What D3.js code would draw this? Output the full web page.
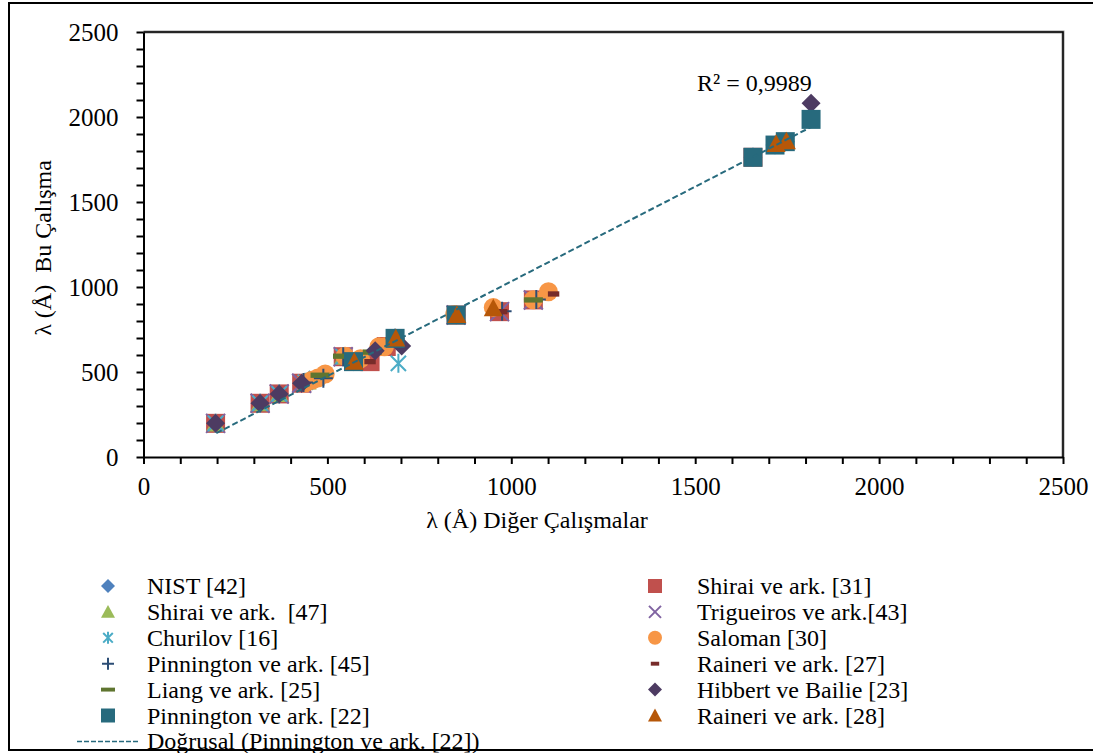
<!DOCTYPE html>
<meta charset="utf-8">
<style>
body { margin: 0; background: #fff; }
svg text { font-family: "Liberation Serif", "Times New Roman", Times, "DejaVu Serif", serif; }
.axis path, .axis line { stroke: #000; stroke-width: 2px; }
.axis text { font-size: 25px; fill: #000; }
.leg text { font-size: 24px; fill: #000; white-space: pre; }
</style>
<body>
<script src="https://cdn.jsdelivr.net/npm/d3@7/dist/d3.min.js"></script>
<script>

// series names (Excel series order)
var seriesNames = ["NIST [42]", "Shirai ve ark. [31]", "Shirai ve ark.  [47]", "Trigueiros ve ark.[43]",
  "Churilov [16]", "Saloman [30]", "Pinnington ve ark. [45]", "Raineri ve ark. [27]",
  "Liang ve ark. [25]", "Hibbert ve Bailie [23]", "Pinnington ve ark. [22]", "Raineri ve ark. [28]"];
var trendName = "Doğrusal (Pinnington ve ark. [22])";

// x = other works, y = this work (Å)
var nistX = [196, 317, 369, 430, 455, 543, 571, 630, 684, 850, 1657, 1717, 1745];
var nistY = [198, 316, 371, 434, 452, 590, 561, 625, 698, 835, 1763, 1835, 1855];
var shirai31X = [196, 317, 369, 430, 543, 616, 660, 850, 968, 1060, 1657];
var shirai31Y = [198, 316, 371, 434, 590, 561, 650, 835, 855, 924, 1763];
var shirai47X = [196, 317, 369, 445, 543, 684, 1657];
var shirai47Y = [198, 316, 371, 445, 590, 698, 1763];
var trigX = [196, 317, 369, 430, 543, 850, 968, 1060];
var trigY = [198, 316, 371, 434, 590, 835, 855, 924];
var churX = [196, 317, 369, 440, 470, 543, 693, 1657];
var churY = [198, 316, 371, 440, 462, 590, 551, 1763];
var salX = [439, 458, 474, 494, 548, 590, 640, 655, 846, 951, 1060, 1101];
var salY = [435, 452, 465, 488, 592, 578, 648, 648, 838, 880, 925, 972];
var pinn45X = [435, 489, 543, 684, 975, 1068];
var pinn45Y = [438, 463, 590, 698, 858, 926];
var rain27X = [616, 843, 974, 1115];
var rain27Y = [561, 838, 855, 959];
var liangX = [480, 541, 622, 1060];
var liangY = [481, 593, 617, 924];
var hibX = [196, 317, 369, 430, 630, 702, 1815];
var hibY = [198, 316, 371, 434, 625, 653, 2081];
var pinn22X = [571, 684, 850, 1657, 1717, 1745, 1815];
var pinn22Y = [561, 698, 835, 1763, 1835, 1855, 1986];
var rain28X = [573, 686, 852, 951, 1720, 1748];
var rain28Y = [561, 698, 835, 875, 1842, 1858];

// linear trendline end points (Pinnington [22])
var trendX = [198, 1815];
var trendY = [140, 1941];
var r2Label = "R² = 0,9989";

var seriesX = [nistX, shirai31X, shirai47X, trigX, churX, salX, pinn45X, rain27X, liangX, hibX, pinn22X, rain28X];
var seriesY = [nistY, shirai31Y, shirai47Y, trigY, churY, salY, pinn45Y, rain27Y, liangY, hibY, pinn22Y, rain28Y];
var shapes = ["diamond", "square", "triangle", "x", "asterisk", "circle", "plus", "dashS", "dash", "diamond", "square", "triangle"];
var colors = ["#4F81BD", "#C0504D", "#9BBB59", "#8064A2", "#4BACC6", "#F79646",
  "#2C4D75", "#772C2A", "#5F7530", "#4D3B62", "#276A7D", "#B65708"];

var W = 1093, H = 753;
var serif = "'Liberation Serif', 'Times New Roman', Times, 'DejaVu Serif', serif";
var svg = d3.select("body").append("svg").attr("width", W).attr("height", H)
  .attr("font-family", serif);

// outer frame (right side runs off the picture)
svg.append("rect").attr("x", 9).attr("y", 3).attr("width", 1110).attr("height", 747)
  .attr("fill", "none").attr("stroke", "#000").attr("stroke-width", 2);

var x = d3.scaleLinear().domain([0, 2500]).range([143.5, 1063]);
var y = d3.scaleLinear().domain([0, 2500]).range([457, 32]);

// plot box top/right
svg.append("path")
  .attr("d", "M" + x(0) + "," + y(2500) + "H" + x(2500) + "V" + y(0))
  .attr("fill", "none").attr("stroke", "#999").attr("stroke-width", 3);
svg.append("path")
  .attr("d", "M" + x(0) + "," + y(2500) + "H" + x(2500) + "V" + y(0))
  .attr("fill", "none").attr("stroke", "#000").attr("stroke-width", 1.5);

var ticks = d3.range(0, 2501, 100);
var fmt = function(d) { return d % 500 === 0 ? d : ""; };

svg.append("g").attr("class", "axis")
  .attr("transform", "translate(0," + y(0) + ")")
  .call(d3.axisBottom(x).tickValues(ticks).tickFormat(fmt).tickSize(7).tickSizeOuter(0).tickPadding(13))
  .attr("font-family", serif).attr("font-size", 25);

svg.append("g").attr("class", "axis")
  .attr("transform", "translate(" + x(0) + ",0)")
  .call(d3.axisLeft(y).tickValues(ticks).tickFormat(fmt).tickSize(7).tickSizeOuter(0).tickPadding(18))
  .attr("font-family", serif).attr("font-size", 25);

// marker shapes
function markerPath(type, s) {
  switch (type) {
    case "diamond": return "M0," + (-s) + "L" + s + ",0L0," + s + "L" + (-s) + ",0Z";
    case "square": return "M" + (-s) + "," + (-s) + "h" + 2 * s + "v" + 2 * s + "h" + (-2 * s) + "Z";
    case "triangle": return "M0," + (-s) + "L" + s + "," + (s * 0.85) + "L" + (-s) + "," + (s * 0.85) + "Z";
    case "circle": return "M" + s + ",0A" + s + "," + s + " 0 1,1 " + (-s) + ",0A" + s + "," + s + " 0 1,1 " + s + ",0Z";
    case "dash": return "M" + (-s) + "," + (-s * 0.28) + "h" + 2 * s + "v" + (s * 0.56) + "h" + (-2 * s) + "Z";
    case "dashS": return "M" + (-s * 0.6) + "," + (-s * 0.28) + "h" + 1.2 * s + "v" + (s * 0.56) + "h" + (-1.2 * s) + "Z";
    case "plus": return "M" + (-s) + ",0H" + s + "M0," + (-s) + "V" + s;
    case "x": return "M" + (-s) + "," + (-s) + "L" + s + "," + s + "M" + (-s) + "," + s + "L" + s + "," + (-s);
    case "asterisk": var a = s * 0.8;
      return "M" + (-a) + "," + (-a) + "L" + a + "," + a + "M" + (-a) + "," + a + "L" + a + "," + (-a) + "M0," + (-s) + "V" + s;
  }
}
var stroked = { plus: 1, x: 1, asterisk: 1 };

function drawMarker(g, type, s, color) {
  var p = g.append("path").attr("d", markerPath(type, s));
  if (stroked[type]) p.attr("fill", "none").attr("stroke", color).attr("stroke-width", 2);
  else p.attr("fill", color);
  return p;
}

// scatter series
seriesNames.forEach(function(name, i) {
  var pts = seriesX[i].map(function(v, j) { return [v, seriesY[i][j]]; });
  var g = svg.append("g");
  pts.forEach(function(d) {
    var m = g.append("g").attr("transform", "translate(" + x(d[0]) + "," + y(d[1]) + ")");
    drawMarker(m, shapes[i], stroked[shapes[i]] ? 9.5 : 9.5, colors[i]);
  });
});

// trendline
svg.append("path")
  .datum(trendX.map(function(v, j) { return [v, trendY[j]]; }))
  .attr("d", d3.line().x(function(d) { return x(d[0]); }).y(function(d) { return y(d[1]); }))
  .attr("fill", "none").attr("stroke", "#276A7D").attr("stroke-width", 2)
  .attr("stroke-dasharray", "6,3");

svg.append("text").attr("x", 697).attr("y", 91)
  .attr("font-size", 24).text(r2Label);

// axis titles
svg.append("text").attr("x", 537).attr("y", 528).attr("text-anchor", "middle")
  .attr("font-size", 24).text("λ (Å) Diğer Çalışmalar");
svg.append("text").attr("transform", "translate(51,248) rotate(-90)").attr("text-anchor", "middle")
  .attr("font-size", 24).style("white-space", "pre").text("λ (Å)  Bu Çalışma");

// legend: two columns, filled row by row
var leg = svg.append("g").attr("class", "leg");
var rowY = function(r) { return 586 + r * 25.9; };
seriesNames.forEach(function(name, i) {
  var col = i % 2, row = Math.floor(i / 2);
  var mx = col === 0 ? 108 : 655, tx = col === 0 ? 147 : 697;
  var m = leg.append("g").attr("transform", "translate(" + mx + "," + rowY(row) + ")");
  drawMarker(m, shapes[i], stroked[shapes[i]] ? 6 : 7, colors[i]);
  leg.append("text").attr("x", tx).attr("y", rowY(row)).attr("dy", "0.35em").text(name);
});
leg.append("line").attr("x1", 77).attr("x2", 140).attr("y1", rowY(6)).attr("y2", rowY(6))
  .attr("stroke", "#276A7D").attr("stroke-width", 1.5).attr("stroke-dasharray", "5,2");
leg.append("text").attr("x", 147).attr("y", rowY(6) - 1).attr("dy", "0.35em").text(trendName);

</script>
</body>
